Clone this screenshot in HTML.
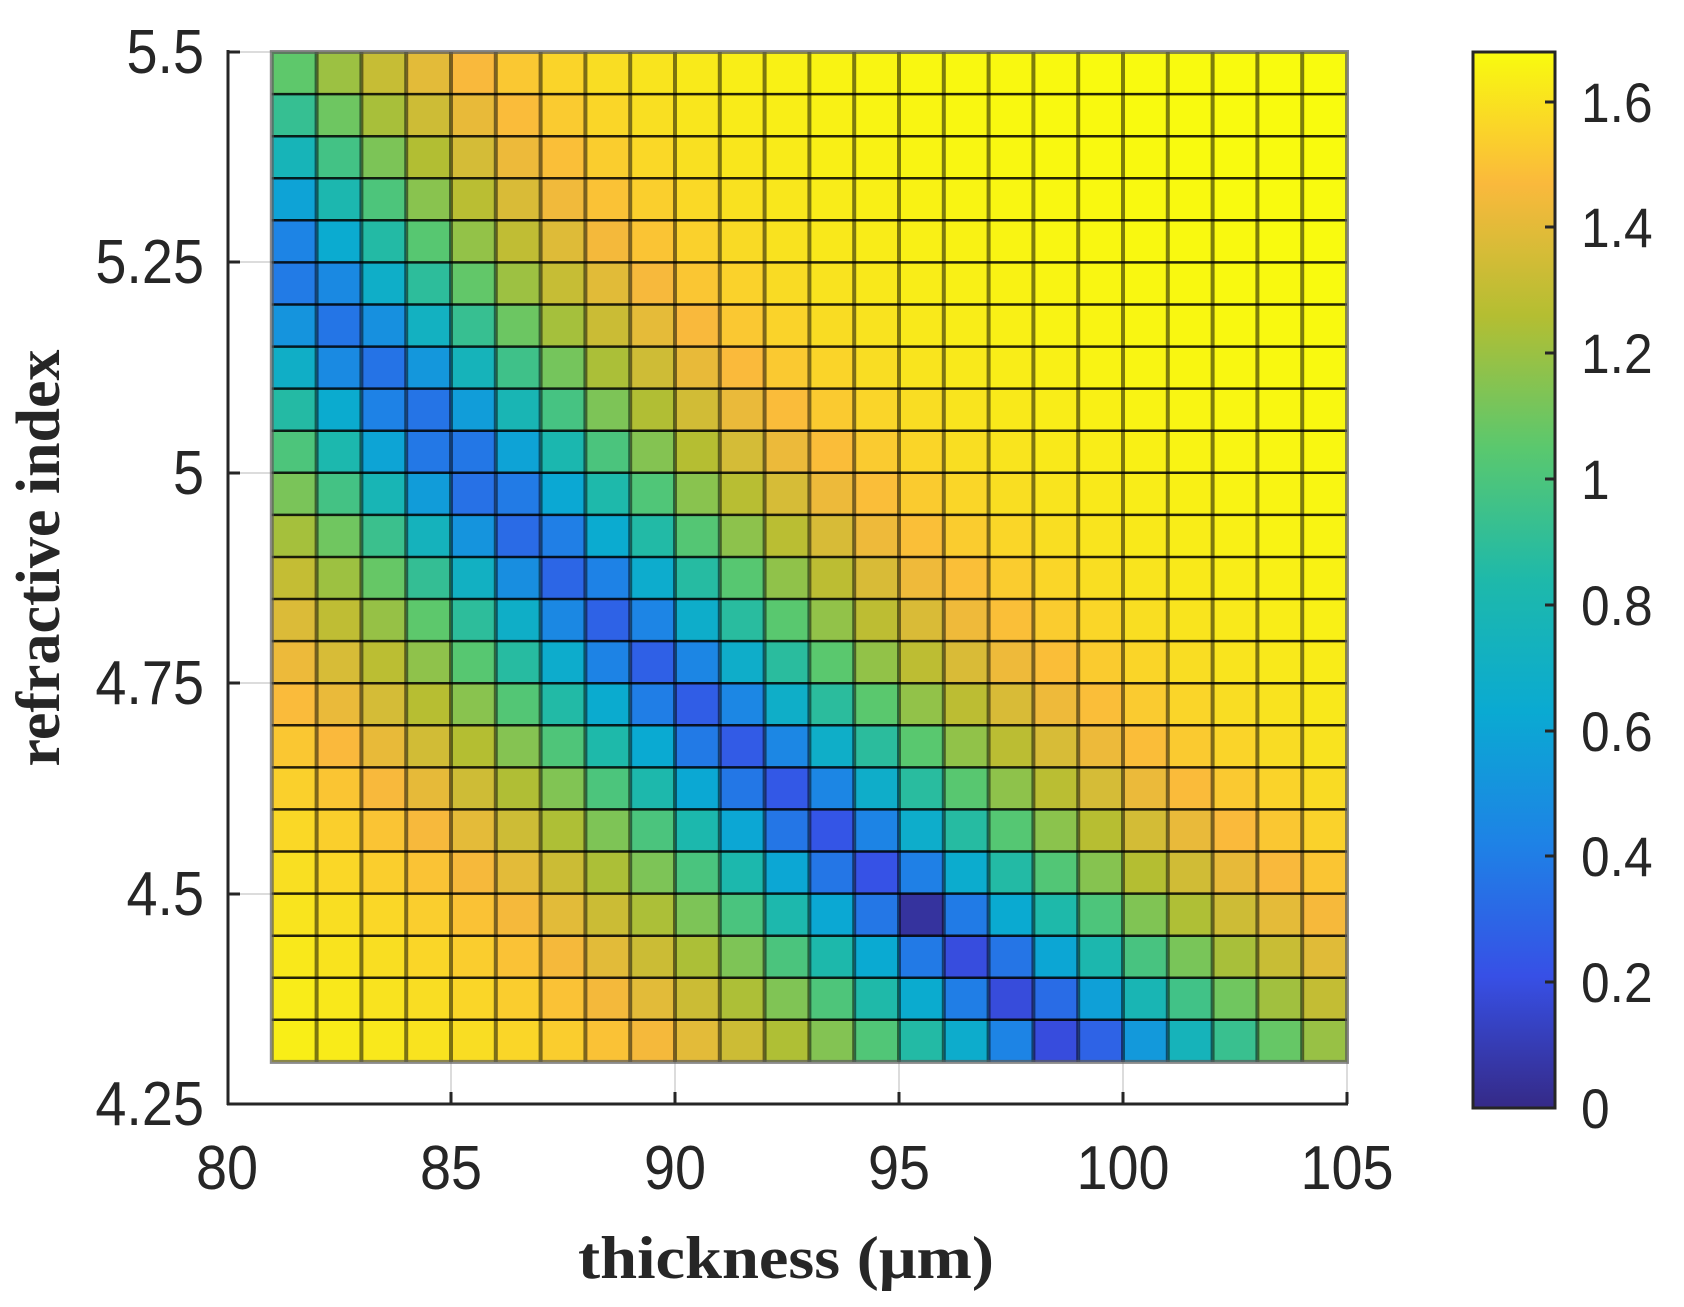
<!DOCTYPE html>
<html><head><meta charset="utf-8"><style>
html,body{margin:0;padding:0;background:#fff;}
svg{display:block;}
.t{font-family:"Liberation Sans",Arial,sans-serif;fill:#262626;}
.lab{font-family:"Liberation Serif","Times New Roman",serif;font-weight:bold;fill:#262626;}
</style></head><body>
<svg id="s" width="1684" height="1307" viewBox="0 0 1684 1307" xmlns="http://www.w3.org/2000/svg">
<defs>
<linearGradient id="cb" x1="0" y1="1" x2="0" y2="0">
<stop offset="0" stop-color="rgb(53,42,135)"/>
<stop offset="0.125" stop-color="rgb(55,80,230)"/>
<stop offset="0.25" stop-color="rgb(30,130,230)"/>
<stop offset="0.375" stop-color="rgb(10,170,210)"/>
<stop offset="0.5" stop-color="rgb(30,185,170)"/>
<stop offset="0.625" stop-color="rgb(90,200,110)"/>
<stop offset="0.75" stop-color="rgb(180,190,50)"/>
<stop offset="0.875" stop-color="rgb(250,185,60)"/>
<stop offset="1" stop-color="rgb(249,251,14)"/>
</linearGradient>
</defs>
<g stroke="#dcdcdc" stroke-width="2">
<line x1="451" y1="52" x2="451" y2="1104"/><line x1="675" y1="52" x2="675" y2="1104"/>
<line x1="899" y1="52" x2="899" y2="1104"/><line x1="1123" y1="52" x2="1123" y2="1104"/>
<line x1="1347" y1="52" x2="1347" y2="1104"/>
<line x1="228" y1="52" x2="1347" y2="52"/><line x1="228" y1="262" x2="1347" y2="262"/>
<line x1="228" y1="473" x2="1347" y2="473"/><line x1="228" y1="683" x2="1347" y2="683"/>
<line x1="228" y1="894" x2="1347" y2="894"/>
</g>
<g id="cells"></g>
<g stroke="#262626" stroke-width="3" fill="none">
<line x1="228" y1="50" x2="228" y2="1105"/>
<line x1="227" y1="1104" x2="1348" y2="1104"/>
<line x1="228" y1="52" x2="240" y2="52"/><line x1="228" y1="262" x2="240" y2="262"/>
<line x1="228" y1="473" x2="240" y2="473"/><line x1="228" y1="683" x2="240" y2="683"/>
<line x1="228" y1="894" x2="240" y2="894"/>
<line x1="451" y1="1104" x2="451" y2="1092"/><line x1="675" y1="1104" x2="675" y2="1092"/>
<line x1="899" y1="1104" x2="899" y2="1092"/><line x1="1123" y1="1104" x2="1123" y2="1092"/>
<line x1="1347" y1="1104" x2="1347" y2="1092"/>
</g>
<g class="t" font-size="62" text-anchor="end">
<text transform="translate(204,73) scale(0.9,1)">5.5</text>
<text transform="translate(204,283) scale(0.9,1)">5.25</text>
<text transform="translate(204,494) scale(0.9,1)">5</text>
<text transform="translate(204,704) scale(0.9,1)">4.75</text>
<text transform="translate(204,915) scale(0.9,1)">4.5</text>
<text transform="translate(204,1125) scale(0.9,1)">4.25</text>
</g>
<g class="t" font-size="62" text-anchor="middle">
<text transform="translate(227,1189) scale(0.9,1)">80</text>
<text transform="translate(451,1189) scale(0.9,1)">85</text>
<text transform="translate(675,1189) scale(0.9,1)">90</text>
<text transform="translate(899,1189) scale(0.9,1)">95</text>
<text transform="translate(1123,1189) scale(0.9,1)">100</text>
<text transform="translate(1347,1189) scale(0.9,1)">105</text>
</g>
<text class="lab" x="786" y="1278" font-size="60" text-anchor="middle" textLength="416" lengthAdjust="spacingAndGlyphs">thickness (μm)</text>
<text class="lab" transform="translate(59,558) rotate(-90)" font-size="62" text-anchor="middle" textLength="417" lengthAdjust="spacingAndGlyphs">refractive index</text>
<rect x="1473" y="52" width="82" height="1056" fill="url(#cb)" stroke="#262626" stroke-width="3"/>
<g stroke="#262626" stroke-width="3">
<line x1="1555" y1="1108" x2="1545" y2="1108"/><line x1="1555" y1="982" x2="1545" y2="982"/>
<line x1="1555" y1="856" x2="1545" y2="856"/><line x1="1555" y1="731" x2="1545" y2="731"/>
<line x1="1555" y1="605" x2="1545" y2="605"/><line x1="1555" y1="479" x2="1545" y2="479"/>
<line x1="1555" y1="353" x2="1545" y2="353"/><line x1="1555" y1="227" x2="1545" y2="227"/>
<line x1="1555" y1="102" x2="1545" y2="102"/>
</g>
<g class="t" font-size="56">
<text transform="translate(1581,1128) scale(0.92,1)">0</text>
<text transform="translate(1581,1002) scale(0.92,1)">0.2</text>
<text transform="translate(1581,876) scale(0.92,1)">0.4</text>
<text transform="translate(1581,751) scale(0.92,1)">0.6</text>
<text transform="translate(1581,625) scale(0.92,1)">0.8</text>
<text transform="translate(1581,499) scale(0.92,1)">1</text>
<text transform="translate(1581,373) scale(0.92,1)">1.2</text>
<text transform="translate(1581,247) scale(0.92,1)">1.4</text>
<text transform="translate(1581,122) scale(0.92,1)">1.6</text>
</g>
</svg>
<script>
(function(){
var stops=[[53,42,135],[55,80,230],[30,130,230],[10,170,210],[30,185,170],[90,200,110],[180,190,50],[250,185,60],[249,251,14]];
var vmax=1.68;
function col(v){var t=Math.max(0,Math.min(1,v/vmax))*8;var i=Math.min(7,Math.floor(t));var f=t-i;var a=stops[i],b=stops[i+1];
return "rgb("+Math.round(a[0]+(b[0]-a[0])*f)+","+Math.round(a[1]+(b[1]-a[1])*f)+","+Math.round(a[2]+(b[2]-a[2])*f)+")";}
var g=document.getElementById("cells");
var x0=227, sx=44.8, y0=52, sy=841.6;
var h="";
for(var r=0;r<24;r++){var n=5.475-0.05*r;
 var cc=2+4*(n-4.3)/1.2;
 for(var c=0;c<24;c++){var d=81.5+c;var diff=Math.abs(n*d-427.2);
  var e=Math.sqrt(diff*diff+cc*cc);
  var v=vmax*(1-Math.exp(-e/20));
  if(r==20&&c==14)v=0.05;
  var x=x0+(d-0.5-80)*sx, y=y0+(5.5-(n+0.025))*sy;
  h+='<rect x="'+x.toFixed(1)+'" y="'+y.toFixed(1)+'" width="'+sx.toFixed(1)+'" height="'+(sy*0.05).toFixed(1)+'" fill="'+col(v)+'"/>';
 }}
var L=x0+sx, R=x0+25*sx, T=y0, B=y0+1.2*sy;
for(var c=1;c<24;c++){var x=L+c*sx;h+='<line x1="'+x.toFixed(1)+'" y1="'+T+'" x2="'+x.toFixed(1)+'" y2="'+B.toFixed(1)+'" stroke="rgba(0,0,0,0.5)" stroke-width="4"/>';}
for(var r=1;r<24;r++){var y=T+r*sy*0.05;h+='<line x1="'+L.toFixed(1)+'" y1="'+y.toFixed(1)+'" x2="'+R.toFixed(1)+'" y2="'+y.toFixed(1)+'" stroke="rgba(0,0,0,0.85)" stroke-width="2.5"/>';}
h+='<rect x="'+L.toFixed(1)+'" y="'+T+'" width="'+(R-L).toFixed(1)+'" height="'+(B-T).toFixed(1)+'" fill="none" stroke="rgba(90,90,90,0.7)" stroke-width="4"/>';
g.innerHTML=h;
})();
</script>
</body></html>
